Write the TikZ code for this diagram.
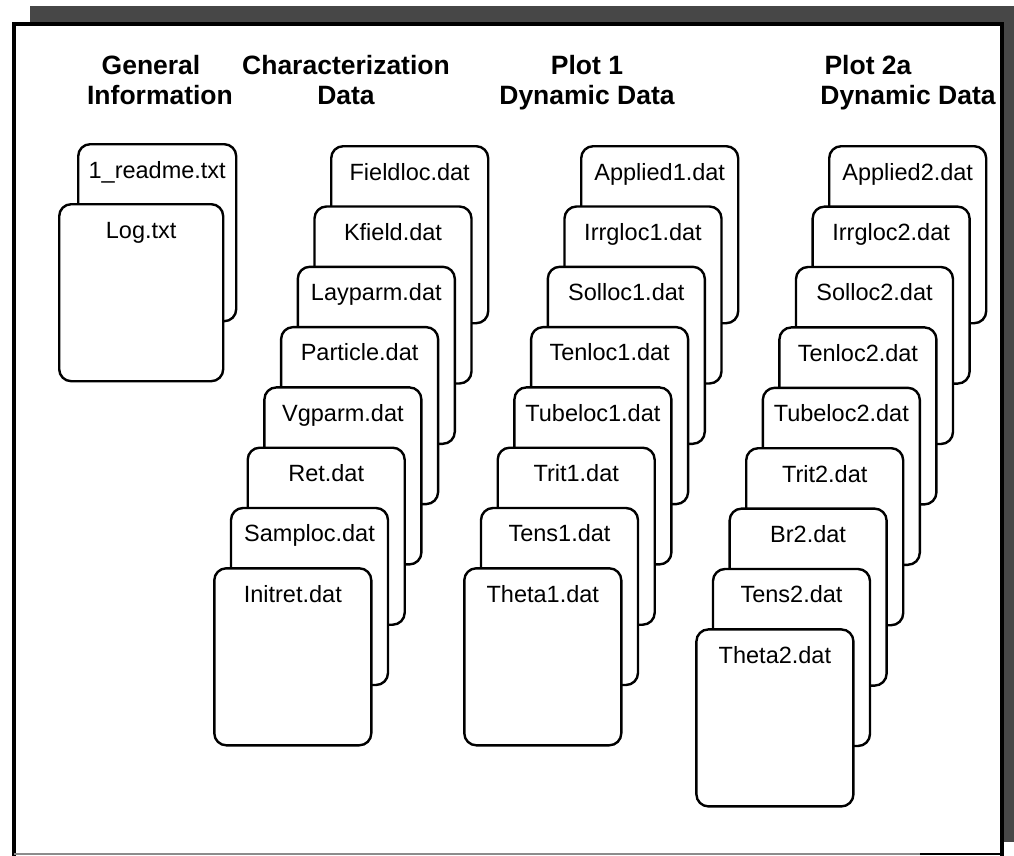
\documentclass[tikz,border=0pt]{standalone}
\usepackage{fontspec}
\setmainfont{Liberation Sans}
\begin{document}
\begin{tikzpicture}[x=1pt,y=-1pt,
  card/.style={draw=black, line width=2.4pt, rounded corners=12pt, fill=white,
    minimum width=157pt, minimum height=177pt, anchor=north west, inner sep=0pt},
  ctext/.style={anchor=base, inner sep=0pt, font=\fontsize{23.5}{28}\selectfont},
  head/.style={anchor=base, inner sep=0pt, font=\bfseries\fontsize{26.5}{30}\selectfont}]
\useasboundingbox (0,0) rectangle (1014,856);
% frame with shadow
\fill[black!72] (30,6) rectangle (1014,842);
\fill[white] (14,24) rectangle (1002,858);
\draw[line width=3.5pt] (14,856) -- (14,24) -- (1002,24) -- (1002,856);
\draw[line width=2pt, black!45] (14,854) -- (920,854);
\draw[line width=2.5pt] (920,854) -- (1002,854);
% headings
\node[head] (h1a) at (151,75) {General};
\node[head] (h1b) at (160,105) {Information};
\node[head] (h2a) at (346,75) {Characterization};
\node[head] (h2b) at (346,105) {Data};
\node[head] (h3a) at (587,75) {Plot 1};
\node[head] (h3b) at (587,105) {Dynamic Data};
\node[head] (h4a) at (868,75) {Plot 2a};
\node[head] (h4b) at (908,105) {Dynamic Data};
% column 1
\node[card, minimum width=158pt] (c1-0) at (77,143) {};
\node[ctext] at ([yshift=-35pt]c1-0.north) {1\_readme.txt};
\node[card, minimum width=164pt] (c1-1) at (58,203) {};
\node[ctext] at ([yshift=-35pt]c1-1.north) {Log.txt};
% column 2
\foreach \n [count=\i from 0] in {Fieldloc.dat,Kfield.dat,Layparm.dat,Particle.dat,Vgparm.dat,Ret.dat,Samploc.dat,Initret.dat}{
  \node[card] (c2-\i) at ({330-16.7*\i},{145+60.3*\i}) {};
  \node[ctext] at ([yshift=-35pt]c2-\i.north) {\n};
}
% column 3
\foreach \n [count=\i from 0] in {Applied1.dat,Irrgloc1.dat,Solloc1.dat,Tenloc1.dat,Tubeloc1.dat,Trit1.dat,Tens1.dat,Theta1.dat}{
  \node[card] (c3-\i) at ({580-16.7*\i},{145+60.3*\i}) {};
  \node[ctext] at ([yshift=-35pt]c3-\i.north) {\n};
}
% column 4
\foreach \n [count=\i from 0] in {Applied2.dat,Irrgloc2.dat,Solloc2.dat,Tenloc2.dat,Tubeloc2.dat,Trit2.dat,Br2.dat,Tens2.dat,Theta2.dat}{
  \node[card] (c4-\i) at ({828-16.6*\i},{145+60.4*\i}) {};
  \node[ctext] at ([yshift=-35pt]c4-\i.north) {\n};
}
\end{tikzpicture}
\end{document}
